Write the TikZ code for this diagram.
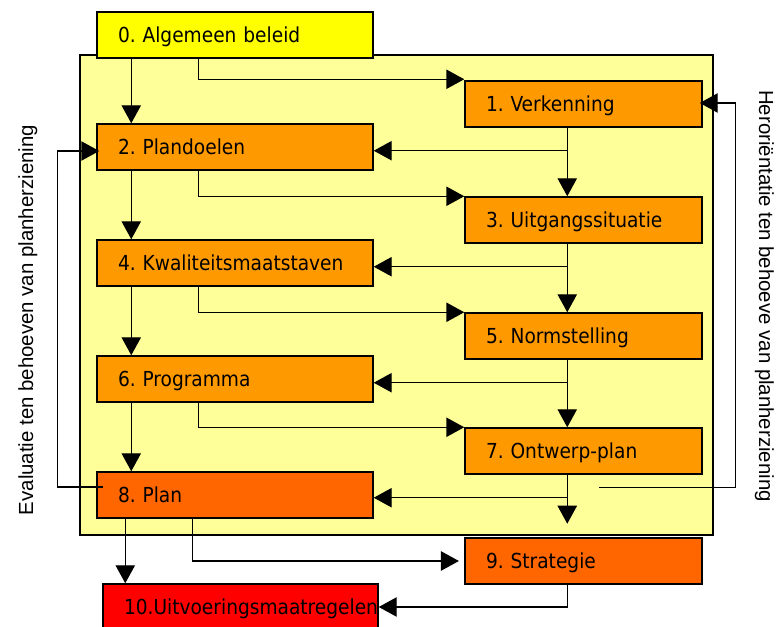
\documentclass[tikz,border=0pt]{standalone}
\usepackage{fontspec}
\usetikzlibrary{arrows.meta,calc}
\newfontfamily\boxfont{DejaVu Sans Condensed}
\newfontfamily\sidefont{Liberation Sans}
\definecolor{bgyellow}{HTML}{FFFF99}
\definecolor{cyel}{HTML}{FFFF00}
\definecolor{corange}{HTML}{FF9900}
\definecolor{cdark}{HTML}{FF6600}
\definecolor{cred}{HTML}{FF0000}
\frenchspacing
\begin{document}
\begin{tikzpicture}[x=0.75pt,y=-0.75pt,
  box/.style={draw=black,line width=1.1pt,inner xsep=15.75pt,inner ysep=0pt,
    minimum height=34.5pt,text height=12pt,text depth=0pt,align=left,
    execute at begin node={\frenchspacing\hyphenpenalty=10000\exhyphenpenalty=10000},
    font=\boxfont\fontsize{15.5pt}{18pt}\selectfont},
  lbox/.style={box,text width=175.5pt},
  rbox/.style={box,text width=146.25pt},
  bgbox/.style={draw=black,line width=1.1pt,fill=bgyellow,minimum width=474.75pt,minimum height=360pt,inner sep=0pt},
  conn/.style={draw=black,line width=1.1pt,-{Triangle[width=14.5pt,length=13.5pt]}},
  side/.style={font=\sidefont\fontsize{15.3pt}{18pt}\selectfont,inner sep=0pt}]
\useasboundingbox (0,0) rectangle (776,627);

% background panel
\node[bgbox] (bg) at (396.5,295) {};

% left column
\node[lbox,fill=cyel]    (b0) at (235,35)  {0. Algemeen beleid};
\node[lbox,fill=corange] (b2) at (235,147) {2. Plandoelen};
\node[lbox,fill=corange] (b4) at (235,263) {4. Kwaliteitsmaatstaven};
\node[lbox,fill=corange] (b6) at (235,379) {6. Programma};
\node[lbox,fill=cdark]   (b8) at (235,495) {8. Plan};
\node[box,text width=174.75pt,fill=cred] (b10) at (240.5,607) {\mbox{10.Uitvoeringsmaatregelen}};

% right column
\node[rbox,fill=corange] (b1) at (583.5,104) {1. Verkenning};
\node[rbox,fill=corange] (b3) at (583.5,220) {3. Uitgangssituatie};
\node[rbox,fill=corange] (b5) at (583.5,336) {5. Normstelling};
\node[rbox,fill=corange] (b7) at (583.5,451) {7. Ontwerp-plan};
\node[rbox,fill=cdark]   (b9) at (583.5,561) {9. Strategie};

% side labels
\node[side,rotate=90,anchor=base] (evl) at (33,320) {Evaluatie ten behoeven van planherziening};
\node[side,rotate=-90,anchor=base] (her) at (759,296) {Heroriëntatie ten behoeve van planherziening};

% left column downward arrows
\draw[conn] ($(b0.south west)+(35,0)$) -- ($(b2.north west)+(35,0)$);
\draw[conn] ($(b2.south west)+(35,0)$) -- ($(b4.north west)+(35,0)$);
\draw[conn] ($(b4.south west)+(35,0)$) -- ($(b6.north west)+(35,0)$);
\draw[conn] ($(b6.south west)+(35,0)$) -- ($(b8.north west)+(35,0)$);
\coordinate (p8) at ($(b8.south west)+(29,0)$);
\draw[conn] (p8) -- (p8 |- b10.north);

% left to right arrows
\draw[conn] ($(b0.south west)+(102,0)$) |- ($(b1.north west)+(0,-1)$);
\draw[conn] ($(b2.south west)+(102,0)$) |- (b3.north west);
\draw[conn] ($(b4.south west)+(102,0)$) |- (b5.north west);
\draw[conn] ($(b6.south west)+(102,0)$) |- (b7.north west);
\draw[conn,shorten >=4pt] ($(b8.south west)+(96,0)$) |- (b9.west);

% right column downward arrows and branches to the left
\draw[conn] ($(b1.south west)+(103,0)$) -- ($(b3.north west)+(103,0)$);
\draw[conn] ($(b3.south west)+(103,0)$) -- ($(b5.north west)+(103,0)$);
\draw[conn] ($(b5.south west)+(103,0)$) -- ($(b7.north west)+(103,0)$);
\coordinate (e7) at ($(b7.south west)+(103,49)$);
\draw[conn] ($(b7.south west)+(103,0)$) -- (e7);
\coordinate (j1) at ($(b1.south west)+(103,23)$);
\coordinate (j3) at ($(b3.south west)+(103,23)$);
\coordinate (j5) at ($(b5.south west)+(103,23)$);
\coordinate (j7) at ($(b7.south west)+(103,23)$);
\draw[conn] (j1) -- (j1 -| b2.east);
\draw[conn] (j3) -- (j3 -| b4.east);
\draw[conn] (j5) -- (j5 -| b6.east);
\draw[conn] (j7) -- (j7 -| b8.east);
\draw[conn] ($(b9.south west)+(103,0)$) |- (b10.east);

% feedback loops
\draw[conn] ($(b8.west)+(7,-8)$) -- ++(-46,0) |- ($(b2.west)+(3,4)$);
\coordinate (h0) at ($(b7.south west)+(135,13)$);
\draw[conn] (h0) -- ++(136,0) |- ($(b1.east)+(-3,-1)$);
\end{tikzpicture}
\end{document}
